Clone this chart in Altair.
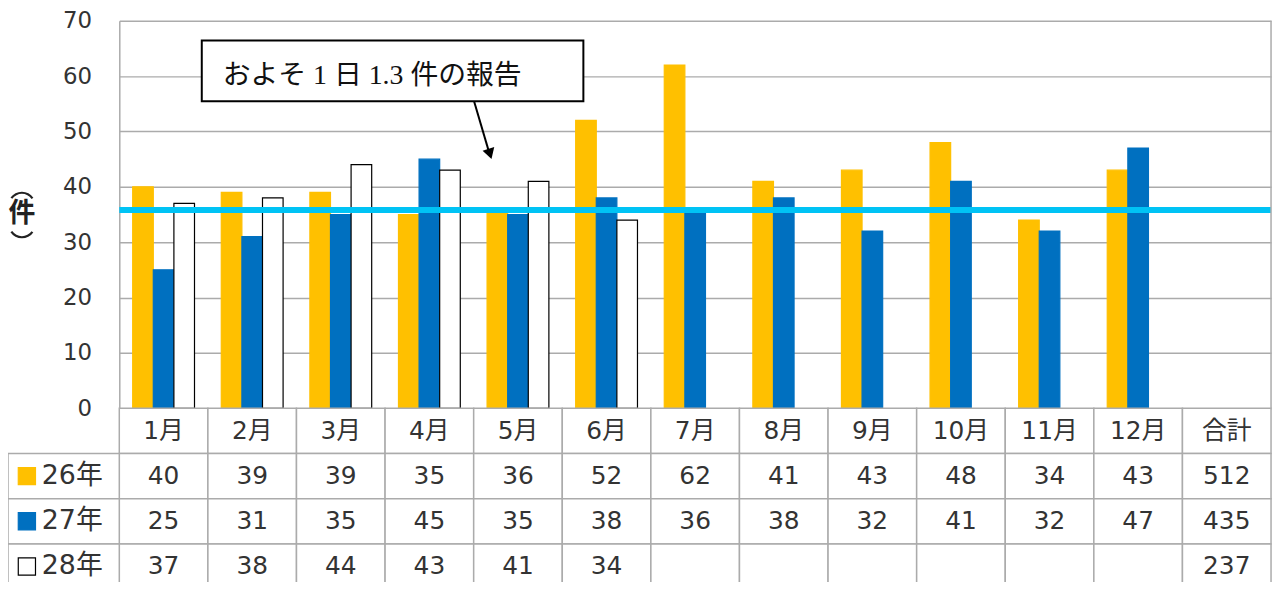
import altair as alt
import pandas as pd

# ---- data ----
months = ["1月", "2月", "3月", "4月", "5月", "6月", "7月", "8月", "9月", "10月", "11月", "12月"]
total_label = "合計"
series = ["26年", "27年", "28年"]
s26 = [40, 39, 39, 35, 36, 52, 62, 41, 43, 48, 34, 43]
s27 = [25, 31, 35, 45, 35, 38, 36, 38, 32, 41, 32, 47]
s28 = [37, 38, 44, 43, 41, 34, None, None, None, None, None, None]
totals = [512, 435, 237]
avg_line = 35.8
note_text = "およそ 1 日 1.3 件の報告"
y_title = "件"

columns = months + [total_label]
rows = ["hdr"] + series
values_by_series = {"26年": s26, "27年": s27, "28年": s28}

# bars
bar_recs = []
for s in series:
    for m, v in zip(months, values_by_series[s]):
        if v is not None:
            bar_recs.append({"month": m, "series": s, "value": v})
bars_df = pd.DataFrame(bar_recs)

# table cells
cell_recs = []
for c in columns:
    cell_recs.append({"month": c, "row": "hdr", "txt": c})
for s, tot in zip(series, totals):
    vals = values_by_series[s] + [tot]
    for c, v in zip(columns, vals):
        cell_recs.append({"month": c, "row": s, "txt": "" if v is None else str(v)})
cells_df = pd.DataFrame(cell_recs)
label_df = pd.DataFrame({"row": series, "series": series})

W = 1159
H = 563
GRID = "#ABABAB"
FONT = "DejaVu Sans, Noto Sans CJK JP"

x_enc = alt.X("month:N", sort=columns, scale=alt.Scale(domain=columns, paddingInner=0, paddingOuter=0), axis=None)
color_scale = alt.Scale(domain=series, range=["#FFC000", "#0070C0", "#FFFFFF"])
stroke_scale = alt.Scale(domain=series, range=["#FFC000", "#0070C0", "#000000"])
yq = alt.Scale(domain=[0, 70], range=[390, 0], nice=False)
ytab_scale = alt.Scale(domain=rows, range=[390, 572], paddingInner=0, paddingOuter=0)


def ytab():
    return alt.Y("row:N", sort=rows, scale=ytab_scale, axis=None)


bars = alt.Chart(bars_df).mark_bar(strokeWidth=1.2).encode(
    x=x_enc,
    xOffset=alt.XOffset("series:N", sort=series,
                        scale=alt.Scale(domain=series, paddingOuter=0.65, paddingInner=0)),
    y=alt.Y("value:Q", scale=yq,
            axis=alt.Axis(values=list(range(0, 71, 10)), grid=True, gridColor=GRID, gridWidth=1.5,
                          domainColor=GRID, domainWidth=1.5, ticks=False, labelPadding=28,
                          labelFont=FONT, labelFontSize=23, labelColor="#333333", title=None)),
    color=alt.Color("series:N", scale=color_scale, legend=None),
    stroke=alt.Stroke("series:N", scale=stroke_scale, legend=None),
)

avg = alt.Chart(pd.DataFrame({"avg": [avg_line]})).mark_rule(color="#00C3F5", strokeWidth=6).encode(
    y=alt.Y("avg:Q", scale=yq)
)

right_border = alt.Chart(pd.DataFrame({"a": [0]})).mark_rule(color=GRID, strokeWidth=1.5).encode(
    x=alt.value(W), y=alt.datum(0), y2=alt.datum(70)
)

top = alt.layer(bars, avg, right_border)

# table
cell_rects = alt.Chart(cells_df).mark_rect(fill="white", stroke=GRID, strokeWidth=1.5).encode(
    x=x_enc, y=ytab(),
)
cell_text = alt.Chart(cells_df).mark_text(font=FONT, fontSize=25, color="#333333", baseline="middle").encode(
    x=x_enc, y=ytab(), text="txt:N",
)
label_rects = alt.Chart(label_df).mark_rect(fill="white", stroke=GRID, strokeWidth=1.5).encode(
    x=alt.value(-112), x2=alt.value(0), y=ytab(),
)
label_sq = alt.Chart(label_df).mark_square(size=300, filled=True, opacity=1, strokeWidth=1.2).encode(
    x=alt.value(-93), y=ytab(),
    color=alt.Color("series:N", scale=color_scale, legend=None),
    stroke=alt.Stroke("series:N", scale=stroke_scale, legend=None),
)
label_txt = alt.Chart(label_df).mark_text(font=FONT, fontSize=27, color="#333333", align="left",
                                          baseline="middle").encode(
    x=alt.value(-78), y=ytab(), text="series:N",
)
table = alt.layer(cell_rects, cell_text, label_rects, label_sq, label_txt)

# annotations
one = pd.DataFrame({"note": [note_text]})
note_box = alt.Chart(one).mark_rect(fill="white", stroke="black", strokeWidth=2).encode(
    x=alt.value(83), x2=alt.value(467), y=alt.value(20), y2=alt.value(81)
)
note_txt = alt.Chart(one).mark_text(font="Liberation Serif, Noto Sans CJK JP", fontSize=28, color="#111111",
                                     align="left", baseline="middle").encode(
    x=alt.value(104), y=alt.value(56), text="note:N"
)
arrow_line = alt.Chart(one).mark_rule(color="black", strokeWidth=2).encode(
    x=alt.value(357), y=alt.value(81), x2=alt.value(372), y2=alt.value(132)
)
arrow_head = alt.Chart(one).mark_point(shape="triangle-down", filled=True, color="black", opacity=1,
                                       size=150, angle=343).encode(
    x=alt.value(373), y=alt.value(134)
)
# vertical-style y title: arched brackets around 件
yt_open = alt.Chart(one).mark_arc(theta=5.32, theta2=7.25, radius=14, radius2=11.8, color="#222222").encode(
    x=alt.value(-98), y=alt.value(186)
)
yt_mid = alt.Chart(pd.DataFrame({"t": [y_title]})).mark_text(
    font="Noto Sans CJK JP", fontSize=27, fontWeight="bold", color="#222222",
    align="center", baseline="middle").encode(x=alt.value(-98), y=alt.value(195), text="t:N")
yt_close = alt.Chart(one).mark_arc(theta=2.18, theta2=4.11, radius=14, radius2=11.8, color="#222222").encode(
    x=alt.value(-98), y=alt.value(205)
)
notes = alt.layer(note_box, note_txt, arrow_line, arrow_head, yt_open, yt_mid, yt_close)

chart = alt.layer(top, table, notes).resolve_scale(y="independent").properties(
    width=W, height=H,
    autosize=alt.AutoSizeParams(type="none"),
    padding={"left": 112, "top": 11, "right": 6, "bottom": 0},
).configure_view(stroke=None)

chart.save("out.html", embed_options={"renderer": "svg", "actions": False})
